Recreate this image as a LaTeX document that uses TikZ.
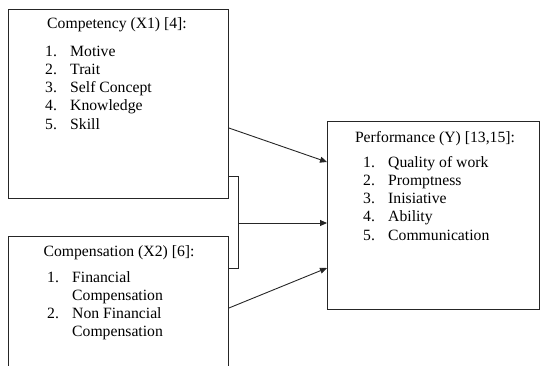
\documentclass[tikz,border=0pt]{standalone}
\usepackage{fontspec}
\setmainfont{Liberation Serif}
\newfontfamily\tnrfont{Liberation Serif}
\usetikzlibrary{arrows.meta}
\newcommand\dfont{\tnrfont\fontsize{15.7}{18.3}\selectfont}
\newcommand\itm[1]{\makebox[25pt][l]{#1}}
\begin{document}
\begin{tikzpicture}[x=1pt,y=-1pt,
  box/.style={draw=black!85, line width=0.9pt, inner sep=0pt, anchor=north west},
  ttl/.style={anchor=base, inner sep=0pt, font=\dfont},
  lst/.style={anchor=base west, inner sep=0pt, font=\dfont},
  conn/.style={draw=black!85, line width=0.9pt},
  arr/.style={conn, -{Triangle[length=7pt,width=6pt]}}]
\useasboundingbox (0,0) rectangle (540,365);
\clip (0,0) rectangle (540,365);
\node[box, minimum width=220pt, minimum height=189pt] (c1) at (8,9) {};
\node[box, minimum width=220pt, minimum height=160pt] (c2) at (8,236) {};
\node[box, minimum width=212pt, minimum height=188pt] (c3) at (327,121) {};
% texts
\node[ttl] (t1) at (117,28) {Competency (X1) [4]:};
\node[lst] (l1) at (45,56) {\begin{tabular}[t]{@{}l@{}}
\itm{1.}Motive\\ \itm{2.}Trait\\ \itm{3.}Self Concept\\ \itm{4.}Knowledge\\ \itm{5.}Skill\end{tabular}};
\node[ttl] (t2) at (119,256) {Compensation (X2) [6]:};
\node[lst] (l2) at (47,282) {\begin{tabular}[t]{@{}l@{}}
\itm{1.}Financial\\ \itm{}Compensation\\ \itm{2.}Non Financial\\ \itm{}Compensation\end{tabular}};
\node[ttl] (t3) at (435,142) {Performance (Y) [13,15]:};
\node[lst] (l3) at (363,167) {\begin{tabular}[t]{@{}l@{}}
\itm{1.}Quality of work\\ \itm{2.}Promptness\\ \itm{3.}Inisiative\\ \itm{4.}Ability\\ \itm{5.}Communication\end{tabular}};
% connectors
\draw[arr] ([yshift=-119pt]c1.north east) -- ([yshift=-41pt]c3.north west);
\draw[conn] ([yshift=-167pt]c1.north east) -- ++(10,0) coordinate (b1)
  |- ([yshift=-32pt]c2.north east);
\coordinate (m) at ([yshift=-102pt]c3.north west);
\draw[arr] (b1 |- m) -- (m);
\draw[arr] ([yshift=-72pt]c2.north east) -- ([yshift=-147pt]c3.north west);
\end{tikzpicture}
\end{document}
